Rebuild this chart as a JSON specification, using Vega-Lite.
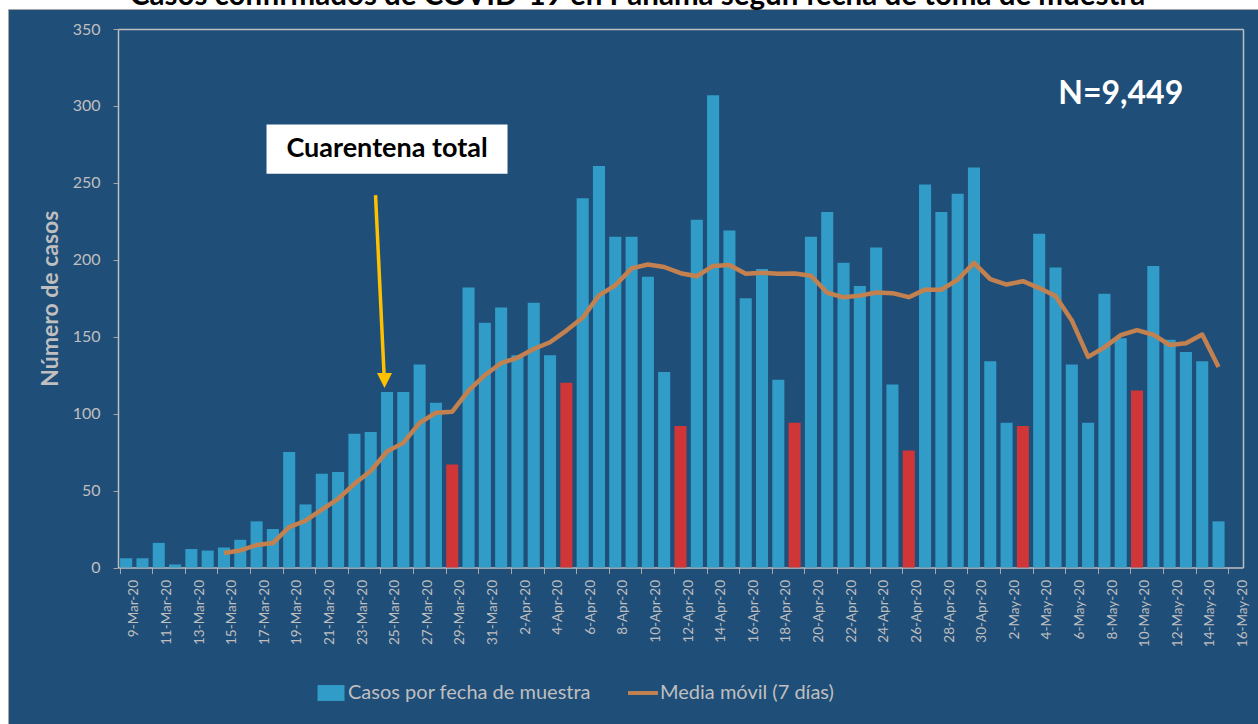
{
  "$schema": "https://vega.github.io/schema/vega-lite/v6.json",
  "width": 1251,
  "height": 716,
  "autosize": "none",
  "padding": {"left": 8, "top": 9, "right": 0, "bottom": 0},
  "background": "white",
  "config": {
    "view": {"fill": "#1F4E79", "stroke": "#A6A6A6", "strokeWidth": 1},
    "axis": {"labelFont": "Lato", "titleFont": "Lato", "grid": false}
  },
  "datasets": {
    "casos": [
      {"fecha": "9-Mar-20", "casos": 6, "rojo": "no", "media": null},
      {"fecha": "10-Mar-20", "casos": 6, "rojo": "no", "media": null},
      {"fecha": "11-Mar-20", "casos": 16, "rojo": "no", "media": null},
      {"fecha": "12-Mar-20", "casos": 2, "rojo": "no", "media": null},
      {"fecha": "13-Mar-20", "casos": 12, "rojo": "no", "media": null},
      {"fecha": "14-Mar-20", "casos": 11, "rojo": "no", "media": null},
      {"fecha": "15-Mar-20", "casos": 13, "rojo": "no", "media": 9.4},
      {"fecha": "16-Mar-20", "casos": 18, "rojo": "no", "media": 11.1},
      {"fecha": "17-Mar-20", "casos": 30, "rojo": "no", "media": 14.6},
      {"fecha": "18-Mar-20", "casos": 25, "rojo": "no", "media": 15.9},
      {"fecha": "19-Mar-20", "casos": 75, "rojo": "no", "media": 26.3},
      {"fecha": "20-Mar-20", "casos": 41, "rojo": "no", "media": 30.4},
      {"fecha": "21-Mar-20", "casos": 61, "rojo": "no", "media": 37.6},
      {"fecha": "22-Mar-20", "casos": 62, "rojo": "no", "media": 44.6},
      {"fecha": "23-Mar-20", "casos": 87, "rojo": "no", "media": 54.4},
      {"fecha": "24-Mar-20", "casos": 88, "rojo": "no", "media": 62.7},
      {"fecha": "25-Mar-20", "casos": 114, "rojo": "no", "media": 75.4},
      {"fecha": "26-Mar-20", "casos": 114, "rojo": "no", "media": 81},
      {"fecha": "27-Mar-20", "casos": 132, "rojo": "no", "media": 94},
      {"fecha": "28-Mar-20", "casos": 107, "rojo": "no", "media": 100.6},
      {"fecha": "29-Mar-20", "casos": 67, "rojo": "si", "media": 101.3},
      {"fecha": "30-Mar-20", "casos": 182, "rojo": "no", "media": 114.9},
      {"fecha": "31-Mar-20", "casos": 159, "rojo": "no", "media": 125},
      {"fecha": "1-Apr-20", "casos": 169, "rojo": "no", "media": 132.9},
      {"fecha": "2-Apr-20", "casos": 138, "rojo": "no", "media": 136.3},
      {"fecha": "3-Apr-20", "casos": 172, "rojo": "no", "media": 142},
      {"fecha": "4-Apr-20", "casos": 138, "rojo": "no", "media": 146.4},
      {"fecha": "5-Apr-20", "casos": 120, "rojo": "si", "media": 154},
      {"fecha": "6-Apr-20", "casos": 240, "rojo": "no", "media": 162.3},
      {"fecha": "7-Apr-20", "casos": 261, "rojo": "no", "media": 176.9},
      {"fecha": "8-Apr-20", "casos": 215, "rojo": "no", "media": 183.4},
      {"fecha": "9-Apr-20", "casos": 215, "rojo": "no", "media": 194.4},
      {"fecha": "10-Apr-20", "casos": 189, "rojo": "no", "media": 196.9},
      {"fecha": "11-Apr-20", "casos": 127, "rojo": "no", "media": 195.3},
      {"fecha": "12-Apr-20", "casos": 92, "rojo": "si", "media": 191.3},
      {"fecha": "13-Apr-20", "casos": 226, "rojo": "no", "media": 189.3},
      {"fecha": "14-Apr-20", "casos": 307, "rojo": "no", "media": 196},
      {"fecha": "15-Apr-20", "casos": 219, "rojo": "no", "media": 196.6},
      {"fecha": "16-Apr-20", "casos": 175, "rojo": "no", "media": 190.9},
      {"fecha": "17-Apr-20", "casos": 194, "rojo": "no", "media": 191.6},
      {"fecha": "18-Apr-20", "casos": 122, "rojo": "no", "media": 190.9},
      {"fecha": "19-Apr-20", "casos": 94, "rojo": "si", "media": 191.1},
      {"fecha": "20-Apr-20", "casos": 215, "rojo": "no", "media": 189.6},
      {"fecha": "21-Apr-20", "casos": 231, "rojo": "no", "media": 178.6},
      {"fecha": "22-Apr-20", "casos": 198, "rojo": "no", "media": 175.6},
      {"fecha": "23-Apr-20", "casos": 183, "rojo": "no", "media": 176.7},
      {"fecha": "24-Apr-20", "casos": 208, "rojo": "no", "media": 178.7},
      {"fecha": "25-Apr-20", "casos": 119, "rojo": "no", "media": 178.3},
      {"fecha": "26-Apr-20", "casos": 76, "rojo": "si", "media": 175.7},
      {"fecha": "27-Apr-20", "casos": 249, "rojo": "no", "media": 180.6},
      {"fecha": "28-Apr-20", "casos": 231, "rojo": "no", "media": 180.6},
      {"fecha": "29-Apr-20", "casos": 243, "rojo": "no", "media": 187},
      {"fecha": "30-Apr-20", "casos": 260, "rojo": "no", "media": 198},
      {"fecha": "1-May-20", "casos": 134, "rojo": "no", "media": 187.4},
      {"fecha": "2-May-20", "casos": 94, "rojo": "no", "media": 183.9},
      {"fecha": "3-May-20", "casos": 92, "rojo": "si", "media": 186.1},
      {"fecha": "4-May-20", "casos": 217, "rojo": "no", "media": 181.6},
      {"fecha": "5-May-20", "casos": 195, "rojo": "no", "media": 176.4},
      {"fecha": "6-May-20", "casos": 132, "rojo": "no", "media": 160.6},
      {"fecha": "7-May-20", "casos": 94, "rojo": "no", "media": 136.9},
      {"fecha": "8-May-20", "casos": 178, "rojo": "no", "media": 143.1},
      {"fecha": "9-May-20", "casos": 149, "rojo": "no", "media": 151},
      {"fecha": "10-May-20", "casos": 115, "rojo": "si", "media": 154.3},
      {"fecha": "11-May-20", "casos": 196, "rojo": "no", "media": 151.3},
      {"fecha": "12-May-20", "casos": 148, "rojo": "no", "media": 144.6},
      {"fecha": "13-May-20", "casos": 140, "rojo": "no", "media": 145.7},
      {"fecha": "14-May-20", "casos": 134, "rojo": "no", "media": 151.4},
      {"fecha": "15-May-20", "casos": 30, "rojo": "no", "media": 130.3},
      {"fecha": "16-May-20", "casos": null, "rojo": "no", "media": null}
    ],
    "notas": [
      {"fecha": "25-Mar-20", "texto": "Cuarentena total", "y": 272, "caja_arriba": 288, "caja_abajo": 256, "flecha_inicio": 242, "flecha_fin": 126, "punta": 121.5},
      {"fecha": "9-May-20", "texto": "N=9,449", "y": 307.5},
      {"fecha": "9-Apr-20", "texto": "Casos confirmados de COVID-19 en Panamá según fecha de toma de muestra", "y": 365.3}
    ]
  },
  "resolve": {"axis": {"x": "independent", "y": "independent"}},
  "layer": [
    {
      "data": {"name": "casos"},
      "transform": [{"filter": "datum.rojo === 'no' && datum.casos != null"}],
      "mark": {"type": "bar"},
      "encoding": {
        "x": {
          "field": "fecha", "type": "nominal",
          "scale": {
            "domain": ["9-Mar-20","10-Mar-20","11-Mar-20","12-Mar-20","13-Mar-20","14-Mar-20","15-Mar-20","16-Mar-20","17-Mar-20","18-Mar-20","19-Mar-20","20-Mar-20","21-Mar-20","22-Mar-20","23-Mar-20","24-Mar-20","25-Mar-20","26-Mar-20","27-Mar-20","28-Mar-20","29-Mar-20","30-Mar-20","31-Mar-20","1-Apr-20","2-Apr-20","3-Apr-20","4-Apr-20","5-Apr-20","6-Apr-20","7-Apr-20","8-Apr-20","9-Apr-20","10-Apr-20","11-Apr-20","12-Apr-20","13-Apr-20","14-Apr-20","15-Apr-20","16-Apr-20","17-Apr-20","18-Apr-20","19-Apr-20","20-Apr-20","21-Apr-20","22-Apr-20","23-Apr-20","24-Apr-20","25-Apr-20","26-Apr-20","27-Apr-20","28-Apr-20","29-Apr-20","30-Apr-20","1-May-20","2-May-20","3-May-20","4-May-20","5-May-20","6-May-20","7-May-20","8-May-20","9-May-20","10-May-20","11-May-20","12-May-20","13-May-20","14-May-20","15-May-20","16-May-20"],
            "range": [110, 1235],
            "paddingInner": 0.26,
            "paddingOuter": 0.13
          },
          "axis": {
            "orient": "bottom",
            "offset": -157.5,
            "title": null,
            "values": ["9-Mar-20","11-Mar-20","13-Mar-20","15-Mar-20","17-Mar-20","19-Mar-20","21-Mar-20","23-Mar-20","25-Mar-20","27-Mar-20","29-Mar-20","31-Mar-20","2-Apr-20","4-Apr-20","6-Apr-20","8-Apr-20","10-Apr-20","12-Apr-20","14-Apr-20","16-Apr-20","18-Apr-20","20-Apr-20","22-Apr-20","24-Apr-20","26-Apr-20","28-Apr-20","30-Apr-20","2-May-20","4-May-20","6-May-20","8-May-20","10-May-20","12-May-20","14-May-20","16-May-20"],
            "bandPosition": 0,
            "labelOffset": 8.15,
            "labelAngle": -90,
            "labelAlign": "right",
            "labelBaseline": "middle",
            "labelFontSize": 13.5,
            "labelColor": "#BFBFBF",
            "labelPadding": 6,
            "tickColor": "#A6A6A6",
            "tickSize": 6,
            "domainColor": "#BFBFBF",
            "domainWidth": 1.5
          }
        },
        "y": {
          "field": "casos", "type": "quantitative",
          "scale": {"domain": [0, 350], "range": [558.5, 20], "nice": false},
          "axis": {
            "orient": "left",
            "offset": -110,
            "values": [0, 50, 100, 150, 200, 250, 300, 350],
            "title": "Número de casos",
            "titleFontSize": 23,
            "titleFontWeight": "bold",
            "titleColor": "#BFBFBF",
            "titlePadding": 10,
            "labelFontSize": 16,
            "labelColor": "#BFBFBF",
            "labelPadding": 13,
            "tickColor": "#A6A6A6",
            "tickSize": 5,
            "domainColor": "#BFBFBF",
            "domainWidth": 1.5
          }
        },
        "color": {
          "datum": "Casos por fecha de muestra",
          "type": "nominal",
          "scale": {"domain": ["Casos por fecha de muestra", "Media móvil (7 días)"], "range": ["#329CC8", "#C3814F"]},
          "legend": {
            "title": null,
            "orient": "none",
            "direction": "horizontal",
            "legendX": 308,
            "legendY": 669,
            "padding": 0,
            "symbolSize": 900,
            "labelFont": "Lato",
            "labelFontSize": 20,
            "labelLimit": 0,
            "labelColor": "#BFBFBF",
            "labelOffset": 2,
            "columnPadding": 37,
            "encode": {
              "symbols": {
                "update": {
                  "shape": {"signal": "datum.value === 'Media móvil (7 días)' ? 'M-1,-0.13H1V0.13H-1Z' : 'M-0.9,-0.53H0.9V0.53H-0.9Z'"},
                  "fill": {"signal": "datum.value === 'Media móvil (7 días)' ? '#C3814F' : '#329CC8'"},
                  "stroke": {"value": "transparent"},
                  "strokeWidth": {"value": 0},
                  "opacity": {"value": 1},
                  "fillOpacity": {"value": 1}
                }
              }
            }
          }
        }
      }
    },
    {
      "data": {"name": "casos"},
      "transform": [{"filter": "datum.rojo === 'si'"}],
      "mark": {"type": "bar", "color": "#D03537"},
      "encoding": {
        "x": {"field": "fecha", "type": "nominal", "axis": null},
        "y": {"field": "casos", "type": "quantitative", "axis": null}
      }
    },
    {
      "data": {"name": "casos"},
      "transform": [{"filter": "datum.media != null"}],
      "mark": {"type": "line", "strokeWidth": 4.5, "strokeJoin": "round"},
      "encoding": {
        "x": {"field": "fecha", "type": "nominal",
          "axis": {"orient": "top", "offset": -20, "labels": false, "ticks": false, "title": null, "domainColor": "#BFBFBF", "domainWidth": 1.5}},
        "y": {"field": "media", "type": "quantitative",
          "axis": {"orient": "right", "offset": -16, "labels": false, "ticks": false, "title": null, "domainColor": "#BFBFBF", "domainWidth": 1.5}},
        "color": {"datum": "Media móvil (7 días)", "type": "nominal"}
      }
    },
    {
      "data": {"name": "notas"},
      "transform": [{"filter": "datum.texto === 'Cuarentena total'"}],
      "mark": {"type": "bar", "width": 241, "color": "white"},
      "encoding": {
        "x": {"field": "fecha", "type": "nominal", "axis": null},
        "y": {"field": "caja_arriba", "type": "quantitative", "axis": null},
        "y2": {"field": "caja_abajo"}
      }
    },
    {
      "data": {"name": "notas"},
      "transform": [{"filter": "datum.texto === 'Cuarentena total'"}],
      "mark": {"type": "text", "font": "Lato", "fontSize": 27, "fontWeight": "bold", "color": "black", "align": "center", "baseline": "middle"},
      "encoding": {
        "x": {"field": "fecha", "type": "nominal", "axis": null},
        "y": {"field": "y", "type": "quantitative", "axis": null},
        "text": {"field": "texto"}
      }
    },
    {
      "data": {"name": "notas"},
      "transform": [{"filter": "datum.texto === 'Cuarentena total'"}],
      "mark": {"type": "rule", "color": "#FFC000", "strokeWidth": 3.5, "xOffset": -11.5, "x2Offset": -3},
      "encoding": {
        "x": {"field": "fecha", "type": "nominal", "axis": null},
        "x2": {"field": "fecha"},
        "y": {"field": "flecha_inicio", "type": "quantitative", "axis": null},
        "y2": {"field": "flecha_fin"}
      }
    },
    {
      "data": {"name": "notas"},
      "transform": [{"filter": "datum.texto === 'Cuarentena total'"}],
      "mark": {"type": "point", "shape": "M-1,-1H1L0,1Z", "size": 225, "filled": true, "color": "#FFC000", "opacity": 1, "xOffset": -2.5},
      "encoding": {
        "x": {"field": "fecha", "type": "nominal", "axis": null},
        "y": {"field": "punta", "type": "quantitative", "axis": null}
      }
    },
    {
      "data": {"name": "notas"},
      "transform": [{"filter": "datum.texto === 'N=9,449'"}],
      "mark": {"type": "text", "font": "Lato", "fontSize": 32, "fontWeight": "bold", "color": "white", "align": "center", "baseline": "middle"},
      "encoding": {
        "x": {"field": "fecha", "type": "nominal", "axis": null},
        "y": {"field": "y", "type": "quantitative", "axis": null},
        "text": {"field": "texto"}
      }
    },
    {
      "data": {"name": "notas"},
      "transform": [{"filter": "datum.fecha === '9-Apr-20'"}],
      "mark": {"type": "text", "font": "Lato", "fontSize": 29.5, "fontWeight": "bold", "color": "black", "align": "center", "baseline": "alphabetic", "dx": 6, "clip": false},
      "encoding": {
        "x": {"field": "fecha", "type": "nominal", "axis": null},
        "y": {"field": "y", "type": "quantitative", "axis": null},
        "text": {"field": "texto"}
      }
    }
  ]
}
